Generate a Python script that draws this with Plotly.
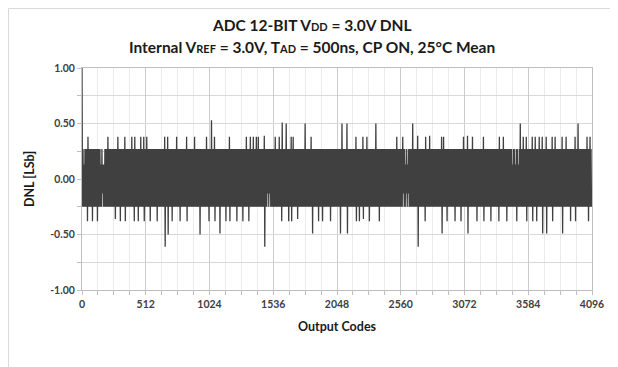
import plotly.graph_objects as go

# ---- data (DNL in LSb vs output code) ----
# typical band envelope
BAND_TOP = 0.27
BAND_BOTTOM = -0.25
# upward spikes: code, value
UP_CODES = [0, 51, 211, 284, 345, 399, 426, 474, 493, 519, 666, 685, 760, 841, 907, 1001, 1036, 1063,
            1180, 1322, 1349, 1376, 1402, 1416, 1464, 1555, 1582, 1609, 1641, 1678, 1697, 1791, 1839,
            2085, 2131, 2200, 2259, 2291, 2361, 2527, 2575, 2660, 2693, 2762, 2789, 2888, 2901,
            3062, 3094, 3134, 3223, 3349, 3383, 3517, 3544, 3571, 3616, 3638, 3670, 3696, 3731,
            3772, 3798, 3852, 3892, 3959, 3986, 4053, 4080]
UP_VALS = [1.00, 0.38, 0.38, 0.38, 0.38, 0.38, 0.38, 0.38, 0.38, 0.38, 0.38, 0.38, 0.38, 0.38, 0.38, 0.38, 0.53, 0.38,
           0.38, 0.38, 0.38, 0.38, 0.38, 0.38, 0.39, 0.38, 0.38, 0.51, 0.50, 0.38, 0.38, 0.50, 0.38,
           0.50, 0.50, 0.38, 0.38, 0.38, 0.50, 0.38, 0.38, 0.50, 0.39, 0.38, 0.39, 0.38, 0.38,
           0.38, 0.39, 0.38, 0.38, 0.38, 0.38, 0.50, 0.38, 0.38, 0.38, 0.38, 0.38, 0.38, 0.38,
           0.38, 0.38, 0.38, 0.38, 0.38, 0.50, 0.38, 0.38]
# downward spikes: code, value
LO_CODES = [37, 78, 118, 265, 305, 345, 412, 452, 493, 546, 600, 666, 685, 720, 787, 841, 948, 1014,
            1063, 1108, 1154, 1180, 1242, 1288, 1336, 1464, 1603, 1657, 1684, 1724, 1845, 1898, 1925,
            1991, 2072, 2131, 2200, 2227, 2259, 2307, 2388, 2693, 2754, 2888, 2929, 2995,
            3043, 3094, 3169, 3223, 3284, 3343, 3410, 3491, 3571, 3616, 3651, 3696, 3731, 3772,
            3858, 3919, 3959, 4061]
LO_VALS = [-0.38, -0.38, -0.38, -0.36, -0.38, -0.38, -0.38, -0.38, -0.38, -0.38, -0.38, -0.61, -0.50, -0.38, -0.38, -0.38, -0.50, -0.38,
           -0.38, -0.49, -0.38, -0.38, -0.38, -0.38, -0.38, -0.61, -0.38, -0.38, -0.38, -0.36, -0.49, -0.38, -0.38,
           -0.38, -0.49, -0.49, -0.38, -0.38, -0.36, -0.38, -0.38, -0.61, -0.38, -0.49, -0.38, -0.38,
           -0.38, -0.49, -0.38, -0.38, -0.38, -0.38, -0.38, -0.38, -0.38, -0.38, -0.38, -0.49, -0.49, -0.38,
           -0.49, -0.38, -0.38, -0.38]
# places where the band top only reaches ~0.13 / band bottom only reaches ~-0.13
TOP_DIP_CODES = [16, 150, 165, 180, 2600, 2615, 3460, 3480, 3500]
TOP_DIP_VAL = 0.13
BOT_RISE_CODES = [160, 1490, 1500, 2580, 2600, 2615]
BOT_RISE_VAL = -0.13

X_TICKS = [0, 512, 1024, 1536, 2048, 2560, 3072, 3584, 4096]
Y_TICKS = [1.0, 0.5, 0.0, -0.5, -1.0]
Y_TICK_TEXT = ["1.00", "0.50", "0.00", "-0.50", "-1.00"]
TITLE_1 = "<b>ADC 12-BIT V<span style='font-size:11px'>DD</span> = 3.0V DNL</b>"
TITLE_2 = ("<b>Internal V<span style='font-size:11px'>REF</span> = 3.0V, "
           "T<span style='font-size:11px'>AD</span> = 500ns, CP ON, 25°C Mean</b>")

# ---- build envelope per code bin ----
STEP = 8
n = 4096 // STEP
hi = [BAND_TOP] * n
lo = [BAND_BOTTOM] * n
for c in TOP_DIP_CODES:
    hi[min(n - 1, round(c / STEP))] = TOP_DIP_VAL
for c in BOT_RISE_CODES:
    lo[min(n - 1, round(c / STEP))] = BOT_RISE_VAL
for c, v in zip(UP_CODES, UP_VALS):
    hi[min(n - 1, round(c / STEP))] = v
for c, v in zip(LO_CODES, LO_VALS):
    lo[min(n - 1, round(c / STEP))] = v

xs, ys = [], []
for i in range(n):
    c = i * STEP
    xs += [c, c + STEP / 2]
    ys += [hi[i], lo[i]]

fig = go.Figure()
fig.add_trace(go.Scatter(x=xs, y=ys, mode="lines",
                         line=dict(color="#404040", width=1.3),
                         showlegend=False, hoverinfo="skip"))

# page body adds an 8px offset, margins below compensate for it
ML, MT, PW, PH = 74, 60, 510, 222
FONT = "Lato, 'Open Sans', sans-serif"
title_font = dict(size=15.5, color="#1a1a1a", family=FONT)
fig.update_layout(
    width=618, height=367,
    margin=dict(l=ML, r=618 - ML - PW, t=MT, b=367 - MT - PH),
    paper_bgcolor="white", plot_bgcolor="white",
    font=dict(family=FONT, color="#404040"),
    annotations=[
        dict(text=TITLE_1, xref="paper", yref="paper", x=(304 - ML) / PW, y=(MT + PH - 17) / PH,
             xanchor="center", yanchor="middle", showarrow=False, font=title_font),
        dict(text=TITLE_2, xref="paper", yref="paper", x=(304 - ML) / PW, y=(MT + PH - 39) / PH,
             xanchor="center", yanchor="middle", showarrow=False, font=title_font),
    ],
    xaxis=dict(
        range=[0, 4096], tickvals=X_TICKS, ticktext=[str(v) for v in X_TICKS],
        ticks="outside", ticklen=4, tickcolor="#bfbfbf", automargin=False,
        showline=True, linecolor="#bfbfbf", linewidth=1, mirror=True,
        showgrid=True, gridcolor="#cccccc", gridwidth=1,
        minor=dict(dtick=128, tick0=0, ticks="outside", ticklen=4, tickcolor="#bfbfbf",
                   showgrid=True, gridcolor="#ebebeb", gridwidth=1),
        tickfont=dict(size=10.5, color="#404040", family=FONT, weight="bold"),
        title=dict(text="<b>Output Codes</b>", font=dict(size=12.5, color="#1a1a1a"), standoff=13),
        zeroline=False,
    ),
    yaxis=dict(
        range=[-1, 1], tickvals=Y_TICKS, ticktext=Y_TICK_TEXT,
        ticks="outside", ticklen=4, tickcolor="#bfbfbf", automargin=False,
        showline=True, linecolor="#bfbfbf", linewidth=1, mirror=True,
        showgrid=True, gridcolor="#d9d9d9", gridwidth=1,
        minor=dict(dtick=0.25, tick0=0, ticks="outside", ticklen=4, tickcolor="#bfbfbf",
                   showgrid=True, gridcolor="#d9d9d9", gridwidth=1),
        tickfont=dict(size=10.5, color="#404040", family=FONT, weight="bold"),
        title=dict(text="<b>DNL [LSb]</b>", font=dict(size=12.5, color="#1a1a1a"), standoff=12),
        zeroline=False,
    ),
    shapes=[dict(type="rect", xref="paper", yref="paper",
                 x0=(0.5 - ML) / PW, x1=(605 - ML) / PW,
                 y0=(MT + PH - 380) / PH, y1=(MT + PH - 0.5) / PH,
                 line=dict(color="#d9d9d9", width=1), layer="below")],
)

fig.write_html("out.html")
